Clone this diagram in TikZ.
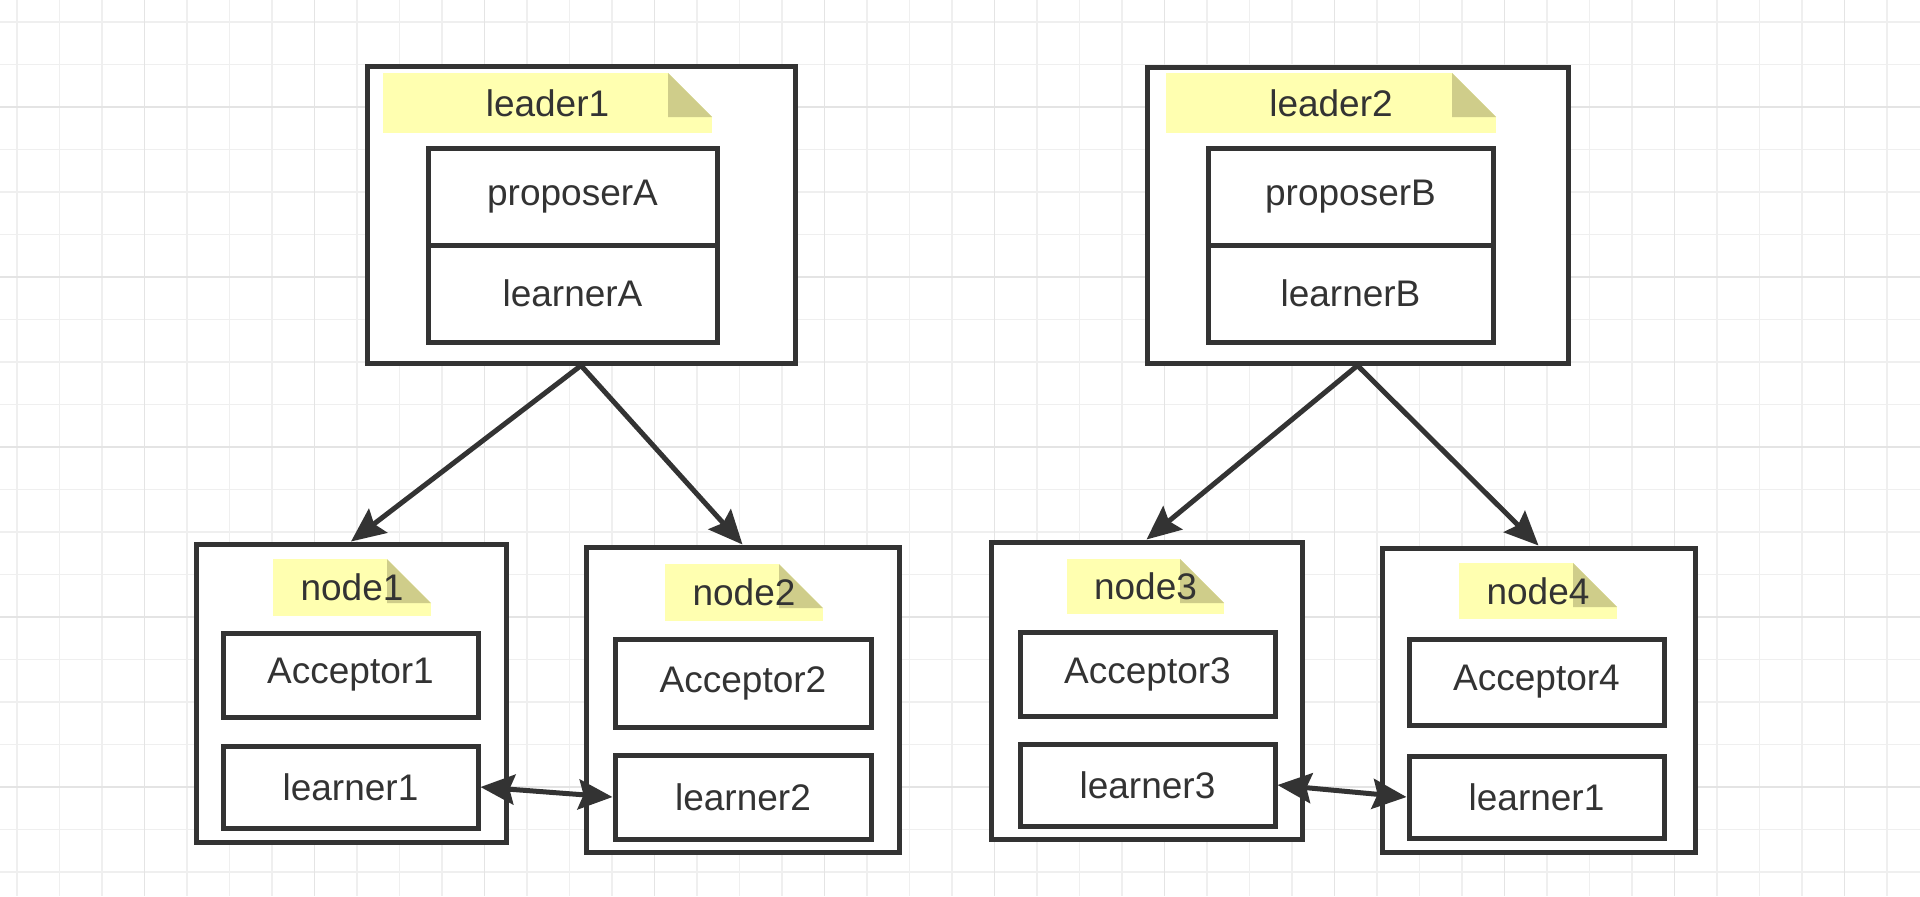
\documentclass[tikz,border=0pt]{standalone}
\usepackage{fontspec}
\setmainfont{Liberation Sans}
\usetikzlibrary{fit,arrows.meta,calc}
\definecolor{ink}{HTML}{333333}
\definecolor{notey}{HTML}{FFFFB0}
\definecolor{foldc}{HTML}{CFCD8A}
\definecolor{gridminor}{HTML}{EFEFEF}
\definecolor{gridmajor}{HTML}{E4E4E4}
\begin{document}
\begin{tikzpicture}[x=0.5pt,y=-0.5pt,
  box/.style={draw=ink, line width=2.5pt, fill=white, inner sep=0pt},
  txt/.style={font=\fontsize{18.5}{22}\selectfont, text=ink, inner sep=0pt},
  notebox/.style={fill=notey, inner sep=0pt,
    path picture={
      \fill[white] ([xshift=-22pt]path picture bounding box.north east) -- (path picture bounding box.north east) -- ([yshift=-22pt]path picture bounding box.north east) -- cycle;
      \fill[foldc] ([xshift=-22pt]path picture bounding box.north east) -- ([xshift=-22pt,yshift=-22pt]path picture bounding box.north east) -- ([yshift=-22pt]path picture bounding box.north east) -- cycle;
    }},
  tipk/.tip={Stealth[length=17pt,width=15pt,inset=2.5pt]},
  arr/.style={draw=ink, line width=2.5pt, -tipk},
  arrtwo/.style={draw=ink, line width=2.5pt, tipk-tipk},
  gminor/.style={draw=gridminor, line width=0.75pt},
  gmajor/.style={draw=gridmajor, line width=0.75pt}
]
\useasboundingbox (0,0) rectangle (1920,896);
\fill[white] (0,0) rectangle (1920,896);
% grid
\foreach \i in {0,...,44} \draw[gminor] ({17+42.5*\i},0) -- ({17+42.5*\i},896);
\foreach \i in {0,...,20} \draw[gminor] (0,{22+42.5*\i}) -- (1920,{22+42.5*\i});
\foreach \i in {0,...,10} \draw[gmajor] ({144.5+170*\i},0) -- ({144.5+170*\i},896);
\foreach \i in {0,...,4} \draw[gmajor] (0,{107+170*\i}) -- (1920,{107+170*\i});

% leaders
\node[box, fit={(367,66)(795,363)}] (leader1) {};
\node[notebox, fit={(383,73)(712,133)}] (note1) {};
\node[txt] (note1t) at (note1.center) {leader1};
\node[box, fit={(428,148)(717,245)}] (propA) {};
\node[txt] (propAt) at (propA.center) {proposerA};
\node[box, fit={(428,245)(717,342)}] (learnA) {};
\node[txt] (learnAt) at (learnA.center) {learnerA};

\node[box, fit={(1147,67)(1568,363)}] (leader2) {};
\node[notebox, fit={(1166,73)(1496,133)}] (note2) {};
\node[txt] (note2t) at (note2.center) {leader2};
\node[box, fit={(1208,148)(1493,245)}] (propB) {};
\node[txt] (propBt) at (propB.center) {proposerB};
\node[box, fit={(1208,245)(1493,342)}] (learnB) {};
\node[txt] (learnBt) at (learnB.center) {learnerB};

% nodes
\node[box, fit={(196,544)(506,842)}] (node1) {};
\node[notebox, fit={(273,559)(431,616)}] (nnote1) {};
\node[txt] (nnote1t) at (nnote1.center) {node1};
\node[box, fit={(223,633)(478,717)}] (acc1) {};
\node[txt] (acc1t) at (acc1.center) {Acceptor1};
\node[box, fit={(223,746)(478,828)}] (lrn1) {};
\node[txt] (lrn1t) at (lrn1.center) {learner1};

\node[box, fit={(586,547)(899,852)}] (node2) {};
\node[notebox, fit={(665,564)(823,621)}] (nnote2) {};
\node[txt] (nnote2t) at (nnote2.center) {node2};
\node[box, fit={(615,639)(871,727)}] (acc2) {};
\node[txt] (acc2t) at (acc2.center) {Acceptor2};
\node[box, fit={(615,755)(871,839)}] (lrn2) {};
\node[txt] (lrn2t) at (lrn2.center) {learner2};

\node[box, fit={(991,542)(1302,839)}] (node3) {};
\node[notebox, fit={(1067,559)(1224,614)}] (nnote3) {};
\node[txt] (nnote3t) at (nnote3.center) {node3};
\node[box, fit={(1020,632)(1275,716)}] (acc3) {};
\node[txt] (acc3t) at (acc3.center) {Acceptor3};
\node[box, fit={(1020,744)(1275,826)}] (lrn3) {};
\node[txt] (lrn3t) at (lrn3.center) {learner3};

\node[box, fit={(1382,548)(1695,852)}] (node4) {};
\node[notebox, fit={(1459,563)(1617,619)}] (nnote4) {};
\node[txt] (nnote4t) at (nnote4.center) {node4};
\node[box, fit={(1409,639)(1664,725)}] (acc4) {};
\node[txt] (acc4t) at (acc4.center) {Acceptor4};
\node[box, fit={(1409,756)(1664,838)}] (lrn4) {};
\node[txt] (lrn4t) at (lrn4.center) {learner1};

% connectors
\draw[arr] (leader1.south) -- (node1.north);
\draw[arr] (leader1.south) -- (node2.north);
\draw[arr] (leader2.south) -- (node3.north);
\draw[arr] (leader2.south) -- (node4.north);
\draw[arrtwo] (lrn1.east) -- (lrn2.west);
\draw[arrtwo] (lrn3.east) -- (lrn4.west);
\end{tikzpicture}
\end{document}
